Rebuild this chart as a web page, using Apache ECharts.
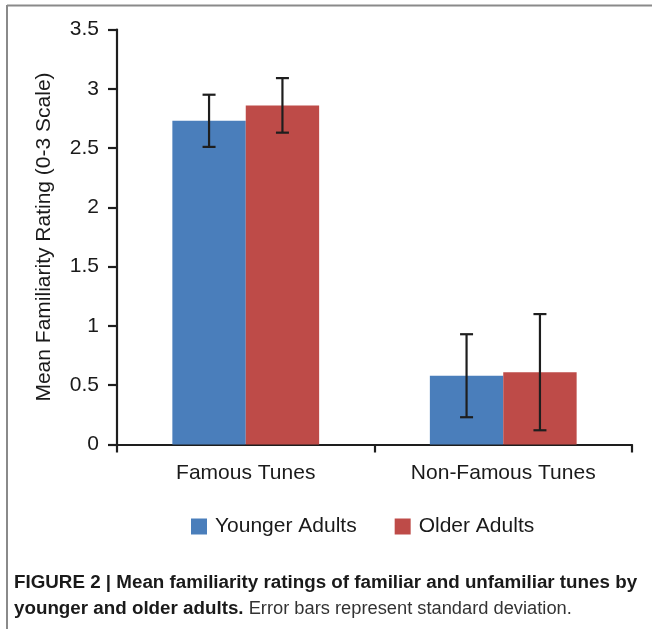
<!DOCTYPE html>
<html><head><meta charset="utf-8">
<script src="https://cdn.jsdelivr.net/npm/echarts@6/dist/echarts.min.js"></script>
<style>html,body{margin:0;padding:0;background:#fff}#c{width:652px;height:629px}</style>
</head><body><div id="c"></div>
<script>
const categories = ['Famous Tunes', 'Non-Famous Tunes'];
const seriesNames = ['Younger Adults', 'Older Adults'];
const youngerMeans = [2.73, 0.58];
const olderMeans = [2.86, 0.61];
const youngerSD = [0.22, 0.35];
const olderSD = [0.23, 0.49];
const captionBold1 = 'FIGURE 2 | Mean familiarity ratings of familiar and unfamiliar tunes by';
const captionBold2 = 'younger and older adults.';
const captionNormal2 = ' Error bars represent standard deviation.';
const yAxisName = 'Mean Familiarity Rating (0-3 Scale)';

const colors = ['#4a7ebb', '#be4b48'];
const CAT_GAP = 0.43;
const FONT = '"Liberation Sans", Arial, sans-serif';
const NARROW = '"Liberation Sans Narrow", "Arial Narrow", sans-serif';

function errSeries(means, sds, side) {
  return {
    type: 'custom',
    silent: true,
    z: 10,
    data: means.map((m, i) => [i, m - sds[i], m + sds[i]]),
    renderItem: function (params, api) {
      const band = api.size([1, 0])[0];
      const bw = band * (1 - CAT_GAP) / 2;
      const c = api.coord([api.value(0), 0]);
      const x = c[0] + side * bw / 2;
      const lo = api.coord([api.value(0), api.value(1)])[1];
      const hi = api.coord([api.value(0), api.value(2)])[1];
      const cap = 6.5;
      const st = { stroke: '#1e1e1e', lineWidth: 2.2 };
      return { type: 'group', children: [
        { type: 'line', shape: { x1: x, y1: lo, x2: x, y2: hi }, style: st },
        { type: 'line', shape: { x1: x - cap, y1: lo, x2: x + cap, y2: lo }, style: st },
        { type: 'line', shape: { x1: x - cap, y1: hi, x2: x + cap, y2: hi }, style: st }
      ]};
    }
  };
}

const chart = echarts.init(document.getElementById('c'), null, { renderer: 'canvas' });
chart.setOption({
  animation: false,
  textStyle: { fontFamily: FONT },
  grid: { left: 117, right: 20, top: 29.5, bottom: 629 - 444.5 },
  legend: {
    left: 191, top: 516, padding: 0, itemWidth: 16, itemHeight: 16, itemGap: 38,
    icon: 'rect',
    textStyle: { fontSize: 21, color: '#1a1a1a', fontFamily: FONT, padding: [0, 0, 0, 3] },
    data: seriesNames
  },
  xAxis: {
    type: 'category', data: categories,
    axisLine: { lineStyle: { color: '#1e1e1e', width: 2.2 } },
    axisTick: { show: true, length: 8, lineStyle: { color: '#1e1e1e', width: 2.2 } },
    axisLabel: { fontSize: 21, color: '#1a1a1a', margin: 18, fontFamily: FONT }
  },
  yAxis: {
    type: 'value', min: 0, max: 3.5, interval: 0.5,
    name: yAxisName, nameLocation: 'middle', nameGap: 62,
    nameTextStyle: { fontSize: 21, color: '#1a1a1a', fontFamily: FONT },
    axisLine: { show: true, lineStyle: { color: '#1e1e1e', width: 2.2 } },
    axisTick: { show: true, length: 9, lineStyle: { color: '#1e1e1e', width: 2.2 } },
    splitLine: { show: false },
    axisLabel: { fontSize: 21, color: '#1a1a1a', margin: 18, fontFamily: FONT }
  },
  series: [
    { name: seriesNames[0], type: 'bar', data: youngerMeans, barGap: '0%', barCategoryGap: (CAT_GAP * 100) + '%', itemStyle: { color: colors[0] } },
    { name: seriesNames[1], type: 'bar', data: olderMeans, barGap: '0%', barCategoryGap: (CAT_GAP * 100) + '%', itemStyle: { color: colors[1] } },
    errSeries(youngerMeans, youngerSD, -1),
    errSeries(olderMeans, olderSD, 1)
  ],
  graphic: [
    { type: 'line', shape: { x1: 7, y1: 5.5, x2: 652, y2: 5.5 }, style: { stroke: '#8a8a8a', lineWidth: 2 } },
    { type: 'line', shape: { x1: 7, y1: 5, x2: 7, y2: 629 }, style: { stroke: '#8a8a8a', lineWidth: 2 } },
    { type: 'text', left: 14, top: 573, style: { text: captionBold1, font: 'bold 18.8px ' + NARROW, fill: '#1a1a1a' } },
    { type: 'text', left: 14, top: 599, style: {
      text: '{b|' + captionBold2 + '}{n|' + captionNormal2 + '}',
      rich: {
        b: { font: 'bold 18.8px ' + NARROW, fill: '#1a1a1a' },
        n: { font: '18.3px ' + NARROW, fill: '#333' }
      }
    } }
  ]
});
</script></body></html>
